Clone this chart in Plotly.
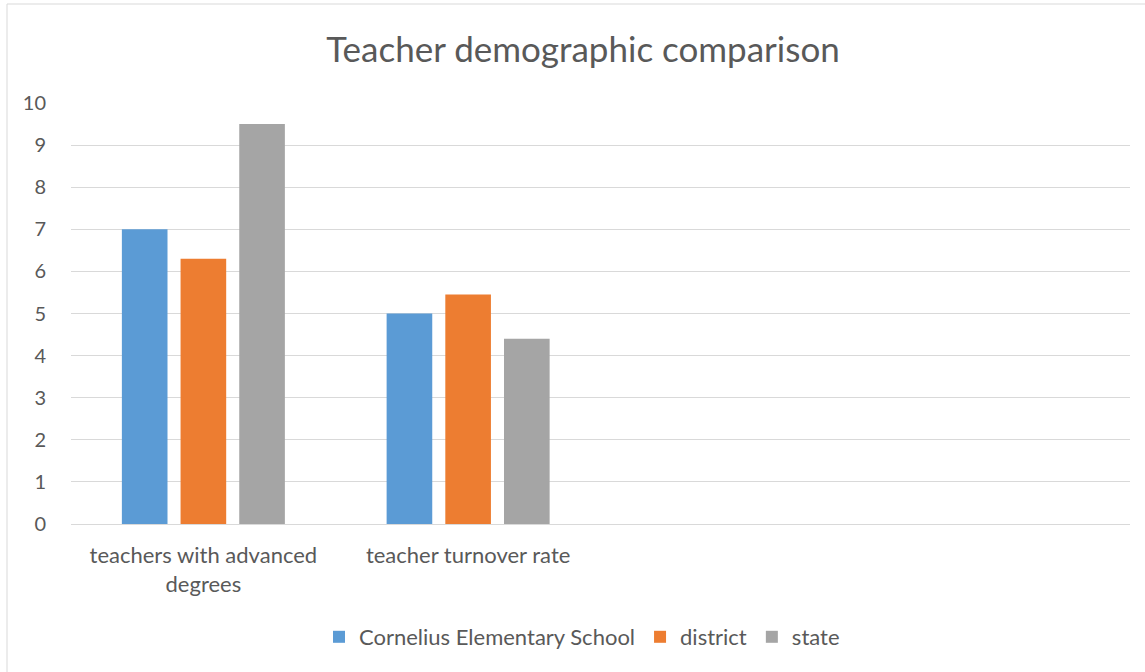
import plotly.graph_objects as go

# Category slots on the x axis (the chart leaves room for four groups, two used)
categories = ["teachers with advanced<br>degrees", "teacher turnover rate"]
category_slots = 4

series_names = ["Cornelius Elementary School", "district", "state"]
school = [7.0, 5.0]
district = [6.3, 5.45]
state = [9.5, 4.4]
colors = ["#5B9BD5", "#ED7D31", "#A5A5A5"]

y_ticks = list(range(0, 11))

text_color = "#595959"
grid_color = "#D9D9D9"
font_family = "Lato, 'Open Sans', sans-serif"

x_pos = list(range(len(categories)))

fig = go.Figure()
for name, values, color in zip(series_names, [school, district, state], colors):
    fig.add_trace(go.Bar(
        x=x_pos,
        y=values,
        name=name,
        marker=dict(color=color, line=dict(width=0)),
        hoverinfo="y+name",
    ))

W, H = 1145, 672
ml, mr, mt, mb = 71, 15, 103, 148

# light frame around the whole chart area
pw, ph = W - ml - mr, H - mt - mb
def px_x(px):
    return (px - ml) / pw

def px_y(py):
    return (H - mb - py) / ph

fig.add_shape(type="rect", xref="paper", yref="paper",
              x0=px_x(7), x1=px_x(W + 20), y0=px_y(H + 20), y1=px_y(4),
              line=dict(color="#D9D9D9", width=1), fillcolor="rgba(0,0,0,0)",
              layer="below")

fig.update_layout(
    width=W, height=H,
    margin=dict(l=ml, r=mr, t=mt, b=mb),
    paper_bgcolor="white",
    plot_bgcolor="white",
    barmode="group",
    bargap=0.335,
    bargroupgap=0.2225,
    font=dict(family=font_family, color=text_color, size=20),
    title=dict(
        text="Teacher demographic comparison",
        x=583 / W, xanchor="center", xref="container",
        y=1 - 50 / H, yanchor="middle", yref="container",
        font=dict(size=35, color=text_color, family=font_family),
    ),
    xaxis=dict(
        range=[-0.5, category_slots - 0.5],
        tickmode="array",
        tickvals=x_pos,
        ticktext=categories,
        showgrid=False,
        showline=True,
        linecolor=grid_color,
        linewidth=1,
        ticks="",
        ticklabelstandoff=12,
        tickfont=dict(size=22, color=text_color),
        fixedrange=True,
    ),
    yaxis=dict(
        range=[0, 10],
        tickmode="array",
        tickvals=y_ticks,
        showgrid=True,
        gridcolor=grid_color,
        gridwidth=1,
        zeroline=False,
        showline=False,
        # invisible ticks keep the labels clear of the plot edge
        ticks="outside",
        ticklen=20,
        tickcolor="rgba(0,0,0,0)",
        tickfont=dict(size=20, color=text_color),
        fixedrange=True,
    ),
    legend=dict(
        orientation="h",
        x=px_x(582), xanchor="center",
        y=px_y(637), yanchor="middle",
        font=dict(size=22, color=text_color),
        itemwidth=30,
        traceorder="normal",
    ),
    showlegend=True,
)

fig.write_html("out.html")
